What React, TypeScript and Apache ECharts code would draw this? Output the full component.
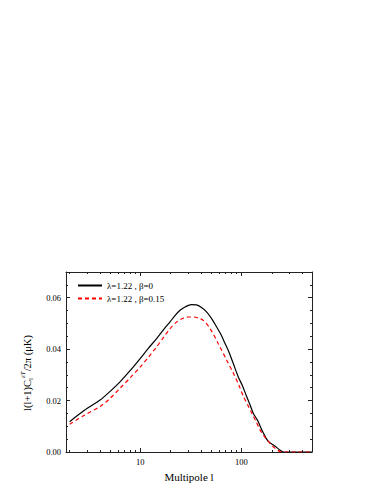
import React, { useEffect, useRef } from "react";
import * as echarts from "echarts";

// Multipole l and l(l+1)C_l/2π values (μK)
const blackL = [2, 2.8, 4, 5, 6.3, 8, 10, 12, 14.5, 17, 19.7, 22, 24.7, 28, 32, 36, 40, 45, 51, 57, 63, 69, 76, 83, 93, 103, 113, 122, 131, 140, 147, 155, 165, 175, 185, 200, 216, 240, 261, 300, 400, 500];
const blackV = [0.0118, 0.0162, 0.0202, 0.0235, 0.0273, 0.0318, 0.0364, 0.0403, 0.0441, 0.0476, 0.0506, 0.053, 0.0551, 0.0565, 0.0573, 0.0572, 0.0563, 0.0546, 0.0518, 0.0486, 0.0456, 0.0422, 0.0385, 0.0345, 0.0293, 0.0256, 0.0215, 0.0183, 0.0151, 0.0132, 0.0118, 0.0096, 0.0074, 0.0055, 0.0041, 0.0031, 0.0022, 0.0008, 0.0, 0, 0, 0];
const redL = [2, 2.8, 4, 5, 6.3, 8, 10, 12, 14.5, 17, 19.7, 23, 26.7, 30, 34, 38, 42, 49, 59, 71.6, 83.4, 95, 105, 116, 127, 140, 153, 168, 185, 210, 241, 270, 350, 500];
const redV = [0.0108, 0.0143, 0.0177, 0.0208, 0.0248, 0.029, 0.0331, 0.0368, 0.0409, 0.0446, 0.048, 0.0506, 0.0521, 0.0525, 0.0525, 0.052, 0.0512, 0.048, 0.0422, 0.0357, 0.0306, 0.0258, 0.0215, 0.0182, 0.0151, 0.0118, 0.0086, 0.0062, 0.0041, 0.0018, 0.0002, 0, 0, 0];

const seriesNames = ["λ=1.22 , β=0", "λ=1.22 , β=0.15"];
const xMajor = [10, 100];
const xMinor = [2, 3, 4, 5, 6, 7, 8, 9, 20, 30, 40, 50, 60, 70, 80, 90, 200, 300, 400, 500];
const yMajor = [0, 0.02, 0.04, 0.06];
const yMinor = [0.005, 0.01, 0.015, 0.025, 0.03, 0.035, 0.045, 0.05, 0.055, 0.065, 0.07];
const xRange = [1.84, 500];
const yRange = [0, 0.07];

const FONT = "Liberation Serif";

export default function App() {
  const ref = useRef<HTMLDivElement>(null);
  useEffect(() => {
    const chart = echarts.init(ref.current!, undefined, { renderer: "svg" });
    const lg = (v: number) => Math.log10(v);
    const xmin = lg(xRange[0]);
    const xmax = lg(xRange[1]);
    const axisColor = "#222";
    const mkX = (pos: "bottom" | "top", major: boolean, withLabel: boolean, withName: boolean) => ({
      type: "value",
      position: pos,
      min: xmin,
      max: xmax,
      splitLine: { show: false },
      axisLine: { show: major, onZero: false, lineStyle: { color: axisColor, width: 1 } },
      axisTick: {
        show: true,
        inside: true,
        length: major ? 4 : 2,
        customValues: (major ? xMajor : xMinor).map(lg),
        lineStyle: { color: axisColor, width: 1 },
      },
      axisLabel: {
        show: withLabel,
        customValues: xMajor.map(lg),
        formatter: (v: number) => String(Math.round(Math.pow(10, v))),
        fontFamily: FONT,
        fontSize: 8.5,
        color: "#000",
        margin: 5,
      },
      name: withName ? "Multipole l" : "",
      nameLocation: "middle",
      nameGap: 19,
      nameTextStyle: { fontFamily: FONT, fontSize: 11, color: "#000" },
    });
    const mkY = (pos: "left" | "right", major: boolean, withLabel: boolean) => ({
      type: "value",
      position: pos,
      min: yRange[0],
      max: yRange[1],
      splitLine: { show: false },
      axisLine: { show: major, onZero: false, lineStyle: { color: axisColor, width: 1 } },
      axisTick: {
        show: true,
        inside: true,
        length: major ? 4 : 2,
        customValues: major ? yMajor : yMinor,
        lineStyle: { color: axisColor, width: 1 },
      },
      axisLabel: {
        show: withLabel,
        customValues: yMajor,
        formatter: (v: number) => v.toFixed(2),
        fontFamily: FONT,
        fontSize: 8.5,
        color: "#000",
        margin: 5,
      },
    });
    chart.setOption({
      animation: false,
      backgroundColor: "#fff",
      textStyle: { fontFamily: FONT, color: "#000" },
      grid: { left: 66, right: 71, top: 272, bottom: 43, containLabel: false },
      xAxis: [
        mkX("bottom", true, true, true),
        mkX("bottom", false, false, false),
        mkX("top", true, false, false),
        mkX("top", false, false, false),
      ],
      yAxis: [
        mkY("left", true, true),
        mkY("left", false, false),
        mkY("right", true, false),
        mkY("right", false, false),
      ],
      legend: {
        orient: "vertical",
        left: 77,
        top: 281,
        padding: 0,
        itemWidth: 24,
        itemHeight: 9,
        itemGap: 4,
        itemStyle: { color: "transparent", borderWidth: 0, opacity: 0 },
        textStyle: { fontFamily: FONT, fontSize: 9, color: "#000" },
        data: seriesNames,
      },
      graphic: [
        {
          type: "text",
          x: 27,
          y: 373,
          rotation: Math.PI / 2,
          style: {
            text: "{a|l(l+1)C}{sub|l}{sup|εT}{a|/2π (μK)}",
            align: "center",
            verticalAlign: "middle",
            fill: "#000",
            rich: {
              a: { fontFamily: FONT, fontSize: 10.5, lineHeight: 15, fill: "#000" },
              sup: { fontFamily: FONT, fontSize: 7, lineHeight: 15, verticalAlign: "top", fontStyle: "italic", fill: "#000" },
              sub: { fontFamily: FONT, fontSize: 7, lineHeight: 15, verticalAlign: "bottom", fill: "#000" },
            },
          },
        },
      ],
      series: [
        {
          name: seriesNames[0],
          type: "line",
          xAxisIndex: 0,
          yAxisIndex: 0,
          symbol: "none",
          showSymbol: false,
          smooth: 0.3,
          data: blackL.map((l, i) => [lg(l), blackV[i]]),
          lineStyle: { color: "#000", width: 1.2 },
          itemStyle: { color: "#000" },
        },
        {
          name: seriesNames[1],
          type: "line",
          xAxisIndex: 0,
          yAxisIndex: 0,
          symbol: "none",
          showSymbol: false,
          smooth: 0.3,
          data: redL.map((l, i) => [lg(l), redV[i]]),
          lineStyle: { color: "#ff0000", width: 1.2, type: [4, 3] },
          itemStyle: { color: "#ff0000" },
        },
      ],
    });
    return () => chart.dispose();
  }, []);
  return <div ref={ref} style={{ width: 383, height: 495, position: "absolute", left: 0, top: 0 }} />;
}
